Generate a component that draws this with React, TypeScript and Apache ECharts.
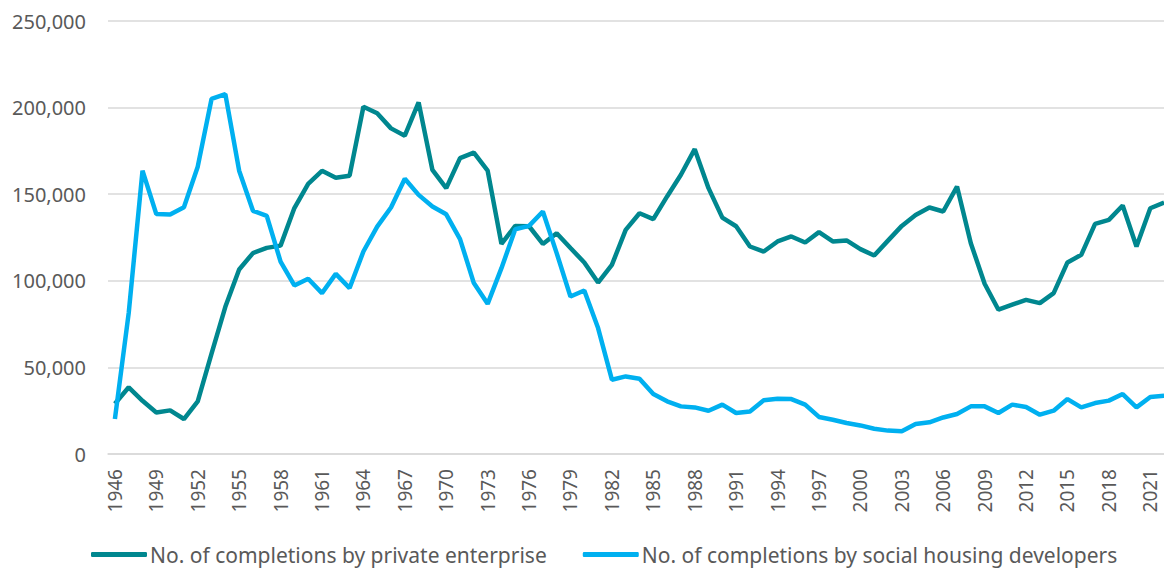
import React, { useEffect, useRef } from "react";
import * as echarts from "echarts";

const years: string[] = [];
for (let y = 1946; y <= 2022; y++) years.push(String(y));

const privateEnterprise = [
  29000, 38500, 30700, 24000, 25200, 20200, 30400, 58000, 85000, 106500,
  116000, 119000, 120300, 142000, 156000, 163500, 159500, 160700, 200500, 196700,
  188000, 183800, 203000, 164000, 153500, 170800, 174000, 163600, 121300, 131700,
  131500, 121300, 127500, 118900, 110600, 99000, 109200, 129400, 139000, 135600,
  148700, 161200, 176000, 153500, 136500, 131500, 119800, 116900, 122700, 125600,
  122100, 128100, 122700, 123300, 118300, 114600, 123200, 131700, 138000, 142300,
  140000, 154400, 121700, 98300, 83300, 86200, 89000, 87100, 92900, 110600,
  115000, 132900, 135200, 143500, 119800, 141900, 145200,
];

const socialHousing = [
  20200, 81400, 163600, 138500, 138300, 142500, 165900, 205000, 207800, 163600,
  140400, 137500, 111100, 97300, 101200, 92900, 104000, 95800, 116900, 131300,
  142300, 158900, 149600, 142900, 138400, 124100, 98700, 86700, 107300, 129800,
  131700, 140000, 116000, 90900, 94400, 72700, 42900, 44800, 43500, 34600,
  30400, 27500, 26900, 25000, 28500, 23700, 24600, 31000, 31900, 31700,
  28500, 21400, 19800, 17900, 16500, 14600, 13500, 13100, 17300, 18300,
  21100, 23100, 27500, 27500, 23700, 28500, 27100, 22700, 25000, 31700,
  26900, 29400, 30800, 34600, 26900, 32900, 33700,
];

const seriesNames = [
  "No. of completions by private enterprise",
  "No. of completions by social housing developers",
];

const FONT = "'Noto Sans', sans-serif";
const TEXT = "#595959";

export default function App() {
  const ref = useRef<HTMLDivElement>(null);
  useEffect(() => {
    document.body.style.margin = "0";
    if (!ref.current) return;
    const chart = echarts.init(ref.current, undefined, { renderer: "svg" });
    chart.setOption({
      animation: false,
      backgroundColor: "#ffffff",
      textStyle: { fontFamily: FONT },
      grid: {
        left: 108,
        top: 21,
        width: 1063,
        height: 433,
        containLabel: false,
        outerBoundsMode: "none",
      },
      legend: {
        left: 86,
        top: 539,
        itemWidth: 56,
        itemHeight: 5,
        itemGap: 36,
        icon: "roundRect",
        textStyle: { fontFamily: FONT, fontSize: 21, color: TEXT, padding: [0, 0, 0, -2] },
        data: seriesNames,
      },
      xAxis: {
        type: "category",
        data: years,
        boundaryGap: true,
        axisLine: { show: true, lineStyle: { color: "#D9D9D9", width: 1.5 } },
        axisTick: { show: false },
        axisLabel: {
          interval: 2,
          rotate: 90,
          margin: 15,
          fontFamily: FONT,
          fontSize: 19,
          color: TEXT,
        },
      },
      yAxis: {
        type: "value",
        min: 0,
        max: 250000,
        interval: 50000,
        axisLine: { show: false },
        axisTick: { show: false },
        splitLine: { lineStyle: { color: "#D9D9D9", width: 1.5 } },
        axisLabel: {
          margin: 22,
          fontFamily: FONT,
          fontSize: 20,
          color: TEXT,
          formatter: (v: number) => v.toLocaleString("en-US"),
        },
      },
      series: [
        {
          name: seriesNames[0],
          type: "line",
          data: privateEnterprise,
          symbol: "none",
          lineStyle: { color: "#00878F", width: 4.5 },
          itemStyle: { color: "#00878F" },
        },
        {
          name: seriesNames[1],
          type: "line",
          data: socialHousing,
          symbol: "none",
          lineStyle: { color: "#00B0F0", width: 4.5 },
          itemStyle: { color: "#00B0F0" },
        },
      ],
    });
    return () => chart.dispose();
  }, []);
  return (
    <div
      ref={ref}
      style={{ position: "absolute", left: 0, top: 0, width: 1164, height: 569, overflow: "hidden" }}
    />
  );
}
